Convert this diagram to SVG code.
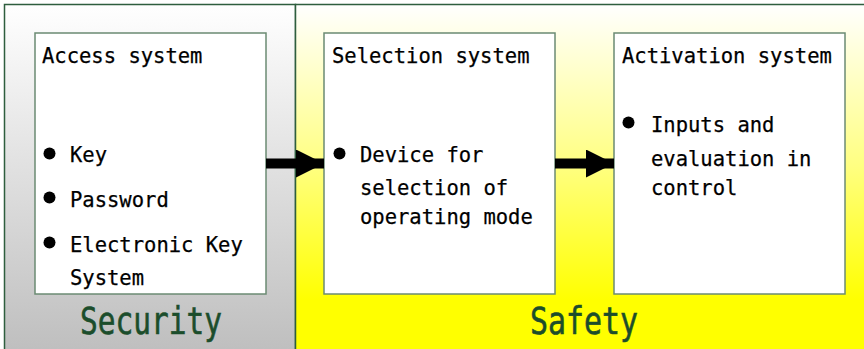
<svg xmlns="http://www.w3.org/2000/svg" width="864" height="349" viewBox="0 0 864 349">
  <defs>
    <linearGradient id="gradSecurity" gradientUnits="userSpaceOnUse" x1="0" y1="4" x2="0" y2="349">
      <stop offset="0" stop-color="#ffffff"/>
      <stop offset="1" stop-color="#bfbfbf"/>
    </linearGradient>
    <linearGradient id="gradSafety" gradientUnits="userSpaceOnUse" x1="0" y1="4" x2="0" y2="300">
      <stop offset="0" stop-color="#ffffff"/>
      <stop offset="0.55" stop-color="#ffff80"/>
      <stop offset="1" stop-color="#ffff00"/>
    </linearGradient>
    <marker id="arrowHead" viewBox="0 0 28 28" refX="28" refY="14" markerUnits="userSpaceOnUse" markerWidth="28" markerHeight="28" orient="auto">
      <path d="M0,0 L28,14 L0,28 Z" fill="#000000"/>
    </marker>
  </defs>
  <style>
    .panel { stroke: #2e5e3e; stroke-width: 1.5; }
    .box { fill: #ffffff; stroke: #6b8b73; stroke-width: 1.5; }
    .txt { font-family: "DejaVu Sans Mono", "Liberation Mono", monospace; font-size: 20.5px; fill: #000000; stroke: #000000; stroke-width: 0.25; }
    .zone { font-family: "DejaVu Sans Mono", "Liberation Mono", monospace; font-size: 37px; fill: #1b4d2b; stroke: #1b4d2b; stroke-width: 0.6; text-anchor: middle; }
    .dot { fill: #000000; }
    .conn { stroke: #000000; stroke-width: 10; fill: none; }
  </style>

  <!-- zone backgrounds -->
  <g id="zone-security">
    <rect class="panel" x="4.5" y="4.5" width="291" height="360" fill="url(#gradSecurity)"/>
    <text class="zone" x="151" y="334" textLength="142" lengthAdjust="spacingAndGlyphs">Security</text>
  </g>
  <g id="zone-safety">
    <rect class="panel" x="295.5" y="4.5" width="580" height="360" fill="url(#gradSafety)"/>
    <text class="zone" x="584" y="334" textLength="108" lengthAdjust="spacingAndGlyphs">Safety</text>
  </g>

  <!-- access system -->
  <g id="node-access">
    <rect class="box" x="35" y="33" width="231" height="261"/>
    <text class="txt" x="42" y="63">Access system</text>
    <circle class="dot" cx="49.5" cy="153.5" r="6"/>
    <text class="txt" x="70" y="162">Key</text>
    <circle class="dot" cx="49.5" cy="197.5" r="6"/>
    <text class="txt" x="70" y="207">Password</text>
    <circle class="dot" cx="49.5" cy="242.5" r="6"/>
    <text class="txt" x="70" y="252">Electronic Key</text>
    <text class="txt" x="70" y="285">System</text>
  </g>

  <!-- selection system -->
  <g id="node-selection">
    <rect class="box" x="324" y="33" width="231" height="261"/>
    <text class="txt" x="332" y="63">Selection system</text>
    <circle class="dot" cx="339.5" cy="153.5" r="6"/>
    <text class="txt" x="360" y="162">Device for</text>
    <text class="txt" x="360" y="195">selection of</text>
    <text class="txt" x="360" y="224">operating mode</text>
  </g>

  <!-- activation system -->
  <g id="node-activation">
    <rect class="box" x="614" y="33" width="231" height="261"/>
    <text class="txt" x="622" y="63">Activation system</text>
    <circle class="dot" cx="628.5" cy="122.5" r="6"/>
    <text class="txt" x="651" y="132">Inputs and</text>
    <text class="txt" x="651" y="166">evaluation in</text>
    <text class="txt" x="651" y="195">control</text>
  </g>

  <!-- flow between systems -->
  <g id="connectors">
    <line class="conn" x1="266" y1="163.5" x2="324" y2="163.5" marker-end="url(#arrowHead)"/>
    <line class="conn" x1="555" y1="163.5" x2="614" y2="163.5" marker-end="url(#arrowHead)"/>
  </g>
</svg>
